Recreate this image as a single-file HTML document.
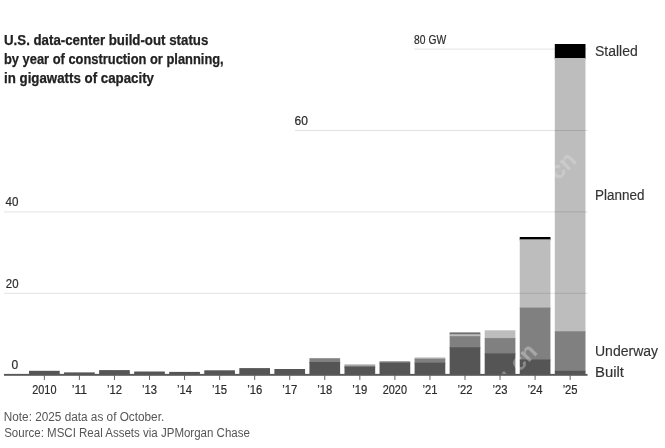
<!DOCTYPE html>
<html><head><meta charset="utf-8"><title>U.S. data-center build-out status</title>
<style>
html,body{margin:0;padding:0;background:#fff;overflow:hidden;}
svg{display:block;filter:grayscale(1);font-family:"Liberation Sans",sans-serif;}
.t{font-weight:bold;font-size:14px;fill:#222;stroke:#222;stroke-width:0.25px;}
.y{font-size:12px;fill:#2b2b2b;stroke:#2b2b2b;stroke-width:0.2px;}
.x{font-size:12px;fill:#2b2b2b;stroke:#2b2b2b;stroke-width:0.2px;text-anchor:middle;}
.s{font-size:14px;fill:#333;stroke:#333;stroke-width:0.15px;}
.n{font-size:12px;fill:#555;}
.w{font-size:24px;font-weight:bold;fill:#fff;}
</style></head><body>
<svg width="665" height="448" viewBox="0 0 665 448">
<rect width="665" height="448" fill="#fff"/>

<rect x="29.00" y="370.80" width="30.70" height="3.90" fill="#555555"/>
<rect x="64.05" y="372.40" width="30.70" height="2.30" fill="#555555"/>
<rect x="99.11" y="370.10" width="30.70" height="4.60" fill="#555555"/>
<rect x="134.16" y="371.50" width="30.70" height="3.20" fill="#555555"/>
<rect x="169.21" y="371.90" width="30.70" height="2.80" fill="#555555"/>
<rect x="204.26" y="370.30" width="30.70" height="4.40" fill="#555555"/>
<rect x="239.32" y="368.10" width="30.70" height="6.60" fill="#555555"/>
<rect x="274.37" y="369.00" width="30.70" height="5.70" fill="#555555"/>
<rect x="309.42" y="358.20" width="30.70" height="4.80" fill="#808080"/>
<rect x="309.42" y="362.00" width="30.70" height="12.70" fill="#555555"/>
<rect x="344.48" y="364.20" width="30.70" height="2.40" fill="#bdbdbd"/>
<rect x="344.48" y="365.60" width="30.70" height="2.20" fill="#808080"/>
<rect x="344.48" y="366.80" width="30.70" height="7.90" fill="#555555"/>
<rect x="379.53" y="361.30" width="30.70" height="2.40" fill="#808080"/>
<rect x="379.53" y="362.70" width="30.70" height="12.00" fill="#555555"/>
<rect x="414.58" y="357.40" width="30.70" height="2.30" fill="#bdbdbd"/>
<rect x="414.58" y="358.70" width="30.70" height="5.00" fill="#808080"/>
<rect x="414.58" y="362.70" width="30.70" height="12.00" fill="#555555"/>
<rect x="449.64" y="332.40" width="30.70" height="2.80" fill="#6e6e6e"/>
<rect x="449.64" y="334.20" width="30.70" height="3.00" fill="#bdbdbd"/>
<rect x="449.64" y="336.20" width="30.70" height="12.10" fill="#808080"/>
<rect x="449.64" y="347.30" width="30.70" height="27.40" fill="#555555"/>
<rect x="484.69" y="330.30" width="30.70" height="8.80" fill="#bdbdbd"/>
<rect x="484.69" y="338.10" width="30.70" height="16.30" fill="#808080"/>
<rect x="484.69" y="353.40" width="30.70" height="21.30" fill="#555555"/>
<rect x="519.74" y="237.00" width="30.70" height="3.30" fill="#000000"/>
<rect x="519.74" y="239.30" width="30.70" height="69.30" fill="#bdbdbd"/>
<rect x="519.74" y="307.60" width="30.70" height="52.90" fill="#808080"/>
<rect x="519.74" y="359.50" width="30.70" height="15.20" fill="#555555"/>
<rect x="554.79" y="44.00" width="30.70" height="15.00" fill="#000000"/>
<rect x="554.79" y="58.00" width="30.70" height="274.30" fill="#bdbdbd"/>
<rect x="554.79" y="331.30" width="30.70" height="40.50" fill="#808080"/>
<rect x="554.79" y="370.80" width="30.70" height="3.90" fill="#555555"/>
<text class="w" opacity="0.3" transform="translate(503,377) rotate(-45)">.</text>
<text class="w" opacity="0.3" transform="translate(518.9,372.8) rotate(-45)">cn</text>
<text class="w" opacity="0.2" transform="translate(558,181.1) rotate(-45)">cn</text>
<rect x="414" y="48.60" width="173.5" height="1" fill="#000" opacity="0.115"/>
<rect x="295" y="130.00" width="292.5" height="1" fill="#000" opacity="0.115"/>
<rect x="4" y="211.40" width="583.5" height="1" fill="#000" opacity="0.115"/>
<rect x="4" y="292.80" width="583.5" height="1" fill="#000" opacity="0.115"/>
<rect x="4" y="373.90" width="583.5" height="1.9" fill="#585858"/>
<rect x="43.85" y="375.20" width="1" height="4.7" fill="#606060"/>
<rect x="78.90" y="375.20" width="1" height="4.7" fill="#606060"/>
<rect x="113.96" y="375.20" width="1" height="4.7" fill="#606060"/>
<rect x="149.01" y="375.20" width="1" height="4.7" fill="#606060"/>
<rect x="184.06" y="375.20" width="1" height="4.7" fill="#606060"/>
<rect x="219.11" y="375.20" width="1" height="4.7" fill="#606060"/>
<rect x="254.17" y="375.20" width="1" height="4.7" fill="#606060"/>
<rect x="289.22" y="375.20" width="1" height="4.7" fill="#606060"/>
<rect x="324.27" y="375.20" width="1" height="4.7" fill="#606060"/>
<rect x="359.33" y="375.20" width="1" height="4.7" fill="#606060"/>
<rect x="394.38" y="375.20" width="1" height="4.7" fill="#606060"/>
<rect x="429.43" y="375.20" width="1" height="4.7" fill="#606060"/>
<rect x="464.49" y="375.20" width="1" height="4.7" fill="#606060"/>
<rect x="499.54" y="375.20" width="1" height="4.7" fill="#606060"/>
<rect x="534.59" y="375.20" width="1" height="4.7" fill="#606060"/>
<rect x="569.64" y="375.20" width="1" height="4.7" fill="#606060"/>
<text class="x" x="44.35" y="393.8" textLength="24.2" lengthAdjust="spacingAndGlyphs">2010</text>
<text class="x" x="79.40" y="393.8" textLength="15.4" lengthAdjust="spacingAndGlyphs">’11</text>
<text class="x" x="114.46" y="393.8" textLength="15.0" lengthAdjust="spacingAndGlyphs">’12</text>
<text class="x" x="149.51" y="393.8" textLength="15.0" lengthAdjust="spacingAndGlyphs">’13</text>
<text class="x" x="184.56" y="393.8" textLength="15.0" lengthAdjust="spacingAndGlyphs">’14</text>
<text class="x" x="219.61" y="393.8" textLength="15.0" lengthAdjust="spacingAndGlyphs">’15</text>
<text class="x" x="254.67" y="393.8" textLength="15.0" lengthAdjust="spacingAndGlyphs">’16</text>
<text class="x" x="289.72" y="393.8" textLength="15.0" lengthAdjust="spacingAndGlyphs">’17</text>
<text class="x" x="324.77" y="393.8" textLength="15.0" lengthAdjust="spacingAndGlyphs">’18</text>
<text class="x" x="359.83" y="393.8" textLength="15.0" lengthAdjust="spacingAndGlyphs">’19</text>
<text class="x" x="394.88" y="393.8" textLength="24.2" lengthAdjust="spacingAndGlyphs">2020</text>
<text class="x" x="429.93" y="393.8" textLength="15.0" lengthAdjust="spacingAndGlyphs">’21</text>
<text class="x" x="464.99" y="393.8" textLength="15.0" lengthAdjust="spacingAndGlyphs">’22</text>
<text class="x" x="500.04" y="393.8" textLength="15.0" lengthAdjust="spacingAndGlyphs">’23</text>
<text class="x" x="535.09" y="393.8" textLength="15.0" lengthAdjust="spacingAndGlyphs">’24</text>
<text class="x" x="570.14" y="393.8" textLength="15.0" lengthAdjust="spacingAndGlyphs">’25</text>
<text class="y" x="414.1" y="43.6" textLength="32" lengthAdjust="spacingAndGlyphs">80 GW</text>
<text class="y" x="294.6" y="125">60</text>
<text class="y" x="5.6" y="205.8" textLength="12.9" lengthAdjust="spacingAndGlyphs">40</text>
<text class="y" x="5.8" y="287.6" textLength="12.7" lengthAdjust="spacingAndGlyphs">20</text>
<text class="y" x="11.5" y="368.8">0</text>
<text class="s" x="595" y="55.5">Stalled</text>
<text class="s" x="595" y="199.8" textLength="49.4" lengthAdjust="spacingAndGlyphs">Planned</text>
<text class="s" x="595" y="355.5">Underway</text>
<text class="s" x="595" y="376.5" textLength="29" lengthAdjust="spacingAndGlyphs">Built</text>
<text class="t" x="4" y="45.2" textLength="204.3" lengthAdjust="spacingAndGlyphs">U.S. data-center build-out status</text>
<text class="t" x="4" y="64.2" textLength="219.7" lengthAdjust="spacingAndGlyphs">by year of construction or planning,</text>
<text class="t" x="4" y="83.2" textLength="150" lengthAdjust="spacingAndGlyphs">in gigawatts of capacity</text>
<text class="n" x="3.8" y="420.9" textLength="160.4" lengthAdjust="spacingAndGlyphs">Note: 2025 data as of October.</text>
<text class="n" x="4.2" y="436.8" textLength="245.7" lengthAdjust="spacingAndGlyphs">Source: MSCI Real Assets via JPMorgan Chase</text>
</svg></body></html>
